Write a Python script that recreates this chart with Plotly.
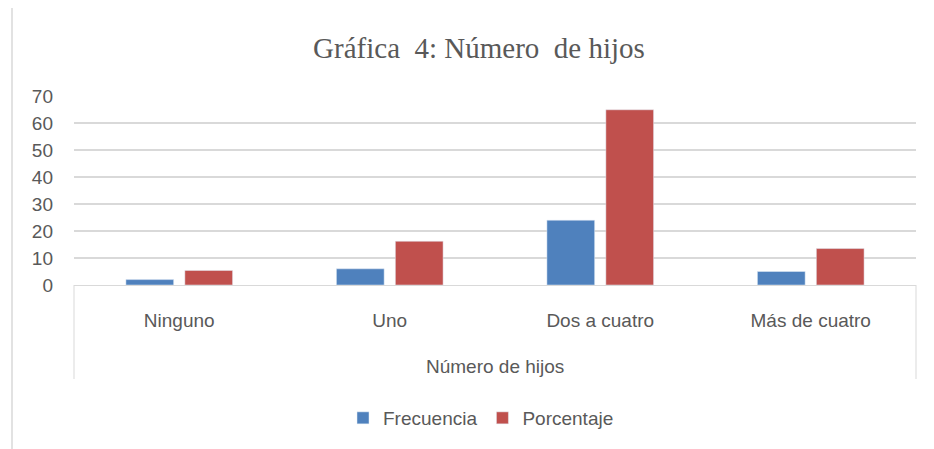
import plotly.graph_objects as go

categories = ["Ninguno", "Uno", "Dos a cuatro", "Más de cuatro"]
frecuencia = [2, 6, 24, 5]
porcentaje = [5.4, 16.2, 64.9, 13.5]
y_ticks = [0, 10, 20, 30, 40, 50, 60, 70]

# page is offset by the default 8px body margin
OFF = 8
PW, PH = 934, 449
W, H = PW - OFF, PH - OFF
plot_left, plot_right, plot_top, plot_bottom = 74, 916, 96, 285
L = plot_left - OFF
T = plot_top - OFF
R = PW - plot_right
B = PH - plot_bottom
ph = plot_bottom - plot_top
pw = plot_right - plot_left

def py(pix):
    return (plot_bottom - pix) / ph

def px(pix):
    return (pix - plot_left) / pw

txt = "#595959"
font_sans = "Liberation Sans, Arial, sans-serif"

fig = go.Figure()
fig.add_trace(go.Bar(x=categories, y=frecuencia, name="Frecuencia", marker_color="#4F81BD"))
fig.add_trace(go.Bar(x=categories, y=porcentaje, name="Porcentaje", marker_color="#C0504D"))

fig.update_layout(
    width=W, height=H,
    margin=dict(l=L, r=R, t=T, b=B, pad=0),
    paper_bgcolor="white", plot_bgcolor="white",
    barmode="group", bargap=0.44, bargroupgap=0.19,
    title=dict(text="Gráfica  4: Número  de hijos", x=(479 - OFF) / W, xanchor="center",
               y=1 - (48 - OFF) / H, yanchor="middle",
               font=dict(family="Liberation Serif, Times New Roman, serif", size=29, color=txt)),
    font=dict(family=font_sans, size=19, color=txt),
    showlegend=True,
    legend=dict(orientation="h", x=px(481), xanchor="center", y=py(418), yanchor="middle",
                font=dict(size=19, color=txt), traceorder="normal"),
    xaxis=dict(showgrid=False, showline=True, linecolor="#D9D9D9", linewidth=1,
               ticks="", ticklabelstandoff=18, tickfont=dict(size=19, color=txt)),
    yaxis=dict(range=[0, 70], tickvals=y_ticks, showgrid=True, gridcolor="#D9D9D9",
               gridwidth=1.5, zeroline=False, showline=False, ticks="",
               ticklabelstandoff=20, tickfont=dict(size=19, color=txt)),
    annotations=[dict(text="Número de hijos", xref="paper", yref="paper",
                      x=0.5, y=py(366), xanchor="center", yanchor="middle",
                      showarrow=False, font=dict(size=19, color=txt))],
    shapes=[
        dict(type="line", xref="paper", yref="paper", x0=0, x1=0, y0=0, y1=py(379),
             line=dict(color="#D9D9D9", width=1)),
        dict(type="line", xref="paper", yref="paper", x0=1, x1=1, y0=0, y1=py(379),
             line=dict(color="#D9D9D9", width=1)),
        dict(type="line", xref="paper", yref="paper", x0=px(12), x1=px(12), y0=py(0), y1=py(449),
             line=dict(color="#D9D9D9", width=1.5)),
    ],
)

fig.write_html("out.html")
